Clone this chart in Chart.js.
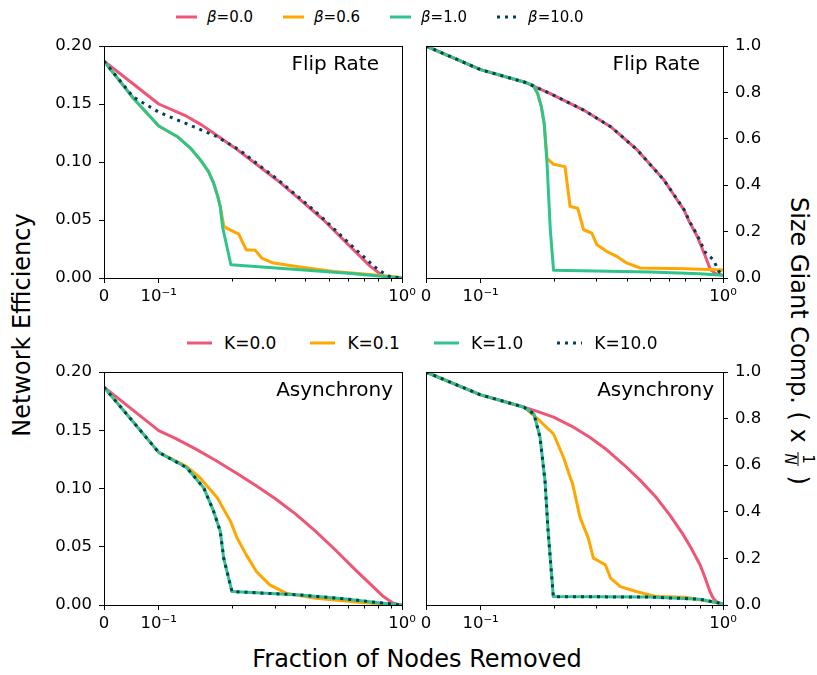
<!DOCTYPE html>
<html>
<head>
<meta charset="utf-8">
<script src="https://cdn.jsdelivr.net/npm/chart.js@4.4.1/dist/chart.umd.min.js"></script>
<style>
  body { margin: 0; background: #fff; font-family: 'DejaVu Sans', sans-serif; color: #000; }
  #fig { position: relative; width: 817px; height: 675px; overflow: hidden; }
  canvas { position: absolute; }
  .legend { position: absolute; display: flex; align-items: center; height: 20px; line-height: 20px; white-space: nowrap; }
  .legend .item { display: flex; align-items: center; }
  .legend svg { display: block; }
  .lab { position: absolute; white-space: nowrap; font-size: 24px; line-height: 1; }
  .frac { display: inline-flex; flex-direction: column; align-items: center; vertical-align: middle; font-size: 15px; line-height: 1; margin: 0 2px; }
  .frac span:first-child { border-bottom: 1.2px solid #000; padding: 0 2px 1px; }
  .frac span:last-child { font-style: italic; padding-top: 1px; }
</style>
</head>
<body>
<div id="fig">
  <canvas id="effFlip" width="370" height="270" style="left:50px;top:36px"></canvas>
  <canvas id="gcFlip" width="370" height="270" style="left:410px;top:36px"></canvas>
  <canvas id="effAsync" width="370" height="271" style="left:50px;top:362px"></canvas>
  <canvas id="gcAsync" width="370" height="271" style="left:410px;top:362px"></canvas>

  <div class="legend" id="legBeta" style="left:176px;top:7px;font-size:15px"></div>
  <div class="legend" id="legK" style="left:187px;top:333px;font-size:17px"></div>

  <div class="lab" style="left:22px;top:325px;transform:translate(-50%,-50%) rotate(-90deg)">Network Efficiency</div>
  <div class="lab" style="left:798px;top:341px;transform:translate(-50%,-50%) rotate(90deg)">Size Giant Comp. ( x <span class="frac"><span>1</span><span>N</span></span> )</div>
  <div class="lab" style="left:417px;top:647px;transform:translateX(-50%)">Fraction of Nodes Removed</div>
</div>

<script>
// x axis: symlog, linear from 0 to 0.1, log from 0.1 to 1
const xMajor = [0, 0.1, 1];
const xTickLabels = ['0', '10⁻¹', '10⁰'];
const xMinor = [0.2, 0.3, 0.4, 0.5, 0.6, 0.7, 0.8, 0.9];

const betaLabels = ['β=0.0', 'β=0.6', 'β=1.0', 'β=10.0'];
const kLabels = ['K=0.0', 'K=0.1', 'K=1.0', 'K=10.0'];
const seriesColors = ['#ef5675', '#ffa600', '#2fc48b', '#003f5c'];

// network efficiency, flip rate   [fraction removed, efficiency]
const effFlipB0 = [[0,0.187],[0.05,0.1685],[0.1,0.150],[0.13,0.1395],[0.15,0.132],[0.173,0.123],[0.203,0.113],[0.245,0.100],[0.306,0.0845],[0.382,0.0673],[0.476,0.050],[0.613,0.027],[0.741,0.010],[0.82,0.003],[0.87,0.0003],[1,0]];
const effFlipB06 = [[0,0.187],[0.0536,0.155],[0.1,0.131],[0.119,0.122],[0.135,0.112],[0.148,0.102],[0.16,0.092],[0.168,0.082],[0.175,0.07],[0.179,0.0616],[0.185,0.045],[0.19,0.043],[0.203,0.040],[0.213,0.038],[0.229,0.0243],[0.249,0.024],[0.265,0.0172],[0.296,0.0129],[0.382,0.0095],[0.523,0.0057],[0.718,0.0032],[1,0.0005]];
const effFlipB1 = [[0,0.187],[0.0536,0.155],[0.1,0.131],[0.119,0.122],[0.135,0.112],[0.148,0.102],[0.16,0.092],[0.168,0.082],[0.175,0.07],[0.179,0.0616],[0.183,0.044],[0.198,0.0114],[0.382,0.0071],[0.6,0.004],[0.8,0.0018],[1,0]];
const effFlipB10 = [[0,0.187],[0.0536,0.156],[0.1,0.143],[0.13,0.133],[0.173,0.122],[0.216,0.110],[0.245,0.101],[0.306,0.0855],[0.382,0.0685],[0.476,0.051],[0.613,0.029],[0.718,0.0157],[0.8,0.007],[0.895,0.001],[1,0]];

// giant component, flip rate
const gcFlipB0 = [[0,1],[0.1,0.898],[0.151,0.845],[0.194,0.795],[0.266,0.724],[0.344,0.652],[0.443,0.552],[0.570,0.423],[0.639,0.345],[0.690,0.294],[0.7297,0.238],[0.783,0.179],[0.846,0.093],[0.887,0.036],[0.93,0.02],[1,0.012]];
const gcFlipB06 = [[0,1],[0.1,0.898],[0.151,0.845],[0.165,0.83],[0.172,0.795],[0.178,0.74],[0.183,0.666],[0.188,0.516],[0.2,0.49],[0.223,0.48],[0.234,0.308],[0.2515,0.301],[0.266,0.208],[0.288,0.193],[0.302,0.143],[0.332,0.114],[0.365,0.093],[0.402,0.064],[0.455,0.043],[0.7,0.04],[1,0.035]];
const gcFlipB1 = [[0,1],[0.1,0.898],[0.151,0.845],[0.165,0.83],[0.172,0.795],[0.178,0.74],[0.183,0.666],[0.188,0.494],[0.194,0.208],[0.2,0.033],[0.5,0.026],[0.8,0.018],[1,0.012]];
const gcFlipB10 = [[0,1],[0.1,0.898],[0.151,0.845],[0.194,0.795],[0.266,0.724],[0.344,0.652],[0.443,0.552],[0.570,0.423],[0.639,0.347],[0.690,0.296],[0.7297,0.242],[0.783,0.185],[0.846,0.11],[0.912,0.079],[0.96,0.03],[1,0.01]];

// network efficiency, asynchrony
const effAsyncK0 = [[0,0.187],[0.1,0.1497],[0.1171,0.1430],[0.1415,0.1340],[0.171,0.1242],[0.2066,0.1138],[0.2497,0.1028],[0.3017,0.0912],[0.3646,0.0782],[0.4406,0.0634],[0.5324,0.0472],[0.6433,0.0302],[0.7413,0.0179],[0.8307,0.0080],[0.913,0.002],[0.967,0.0002],[1,0]];
const effAsyncK01 = [[0,0.187],[0.0536,0.157],[0.1,0.131],[0.13,0.119],[0.148,0.109],[0.174,0.092],[0.197,0.072],[0.210,0.0575],[0.229,0.043],[0.252,0.0288],[0.286,0.0173],[0.335,0.010],[0.442,0.0057],[0.7,0.002],[1,0]];
const effAsyncK1 = [[0,0.187],[0.0536,0.157],[0.1,0.131],[0.13,0.118],[0.153,0.1007],[0.168,0.0806],[0.179,0.0633],[0.185,0.040],[0.2,0.0115],[0.382,0.0086],[0.6,0.005],[0.8,0.002],[1,0]];
const effAsyncK10 = [[0,0.187],[0.0536,0.157],[0.1,0.131],[0.13,0.118],[0.153,0.1007],[0.168,0.0806],[0.179,0.0633],[0.185,0.040],[0.2,0.0115],[0.382,0.0086],[0.6,0.005],[0.8,0.002],[1,0]];

// giant component, asynchrony
const gcAsyncK0 = [[0,1],[0.1,0.902],[0.1228,0.877],[0.151,0.849],[0.1736,0.829],[0.2,0.806],[0.2382,0.767],[0.283,0.719],[0.3317,0.666],[0.388,0.604],[0.4547,0.536],[0.532,0.460],[0.6039,0.386],[0.685,0.302],[0.7416,0.241],[0.804,0.173],[0.8411,0.12],[0.884,0.057],[0.9097,0.030],[0.94,0.014],[0.9692,0.008],[1,0.005]];
const gcAsyncK01 = [[0,1],[0.1,0.902],[0.151,0.849],[0.172,0.799],[0.2,0.734],[0.22,0.633],[0.2345,0.547],[0.24,0.518],[0.2576,0.374],[0.278,0.288],[0.292,0.201],[0.327,0.173],[0.344,0.115],[0.377,0.079],[0.442,0.057],[0.532,0.036],[0.7,0.033],[1,0.005]];
const gcAsyncK1 = [[0,1],[0.1,0.902],[0.151,0.849],[0.166,0.820],[0.176,0.719],[0.1845,0.531],[0.19,0.316],[0.1996,0.036],[0.5,0.034],[0.8,0.025],[1,0.005]];
const gcAsyncK10 = [[0,1],[0.1,0.902],[0.151,0.849],[0.166,0.820],[0.176,0.719],[0.1845,0.531],[0.19,0.316],[0.1996,0.036],[0.5,0.034],[0.8,0.025],[1,0.005]];

const LIN = 0.225; // width of the linear part, in decades

function symU(v) { return v <= 0.1 ? v / 0.1 * LIN : LIN + Math.log10(v / 0.1); }
function symInv(u) { return u <= LIN ? u / LIN * 0.1 : 0.1 * Math.pow(10, u - LIN); }

class SymlogScale extends Chart.Scale {
  static id = 'symlog';
  static defaults = {};
  parse(raw) { return +raw; }
  determineDataLimits() { this.min = this.options.min ?? 0; this.max = this.options.max ?? 1; }
  buildTicks() { return xMajor.map(v => ({ value: v })); }
  getLabelForValue(v) { return String(v); }
  getPixelForValue(v) { return this.getPixelForDecimal(symU(v) / symU(this.max)); }
  getValueForPixel(p) { return symInv(this.getDecimalForPixel(p) * symU(this.max)); }
}
Chart.register(SymlogScale);

const panelDecor = {
  id: 'panelDecor',
  afterDraw(chart, args, opts) {
    const { ctx, chartArea: a } = chart;
    const xs = chart.scales.x;
    ctx.save();
    ctx.strokeStyle = '#000';
    ctx.lineWidth = 1;
    const l = Math.round(a.left) + 0.5, r = Math.round(a.right) + 0.5;
    const t = Math.round(a.top) + 0.5, b = Math.round(a.bottom) + 0.5;
    ctx.strokeRect(l, t, r - l, b - t);
    ctx.beginPath();
    xMinor.forEach(v => {
      const px = Math.round(xs.getPixelForValue(v)) + 0.5;
      ctx.moveTo(px, b);
      ctx.lineTo(px, b + 3);
    });
    ctx.stroke();
    ctx.font = '20px "DejaVu Sans"';
    ctx.fillStyle = '#000';
    ctx.textAlign = 'right';
    ctx.textBaseline = 'alphabetic';
    ctx.fillText(opts.text, a.right - opts.inset, a.top + 24);
    ctx.restore();
  }
};

Chart.defaults.font.family = "'DejaVu Sans'";
Chart.defaults.color = '#000';

function makePanel(id, series, labels, yMax, yStep, yDigits, right, tag, inset) {
  const datasets = series.map((pairs, i) => ({
    label: labels[i],
    data: pairs.map(([x, y]) => ({ x, y })),
    borderColor: seriesColors[i],
    backgroundColor: seriesColors[i],
    borderWidth: 3,
    borderDash: i === 3 ? [3, 5] : [],
    borderCapStyle: 'butt',
    borderJoinStyle: 'round',
    pointRadius: 0,
    tension: 0,
    clip: 0,
    order: 3 - i,
  }));
  new Chart(document.getElementById(id), {
    type: 'line',
    data: { datasets },
    plugins: [panelDecor],
    options: {
      responsive: false,
      animation: false,
      devicePixelRatio: 1,
      layout: { padding: right ? { left: 16, top: 10, right: 0, bottom: 0 } : { left: 0, top: 10, right: 18, bottom: 0 } },
      plugins: {
        legend: { display: false },
        tooltip: { enabled: false },
        panelDecor: { text: tag, inset },
      },
      scales: {
        x: {
          type: 'symlog',
          min: 0,
          max: 1,
          ticks: { callback: (v, i) => xTickLabels[i], font: { size: 16.5 }, padding: 4, maxRotation: 0, autoSkip: false },
          grid: { drawOnChartArea: false, tickLength: 5, tickColor: '#000', tickWidth: 1 },
          border: { display: false },
          afterFit: s => { s.height = 28; s.paddingLeft = 0; s.paddingRight = 0; },
        },
        y: {
          type: 'linear',
          position: right ? 'right' : 'left',
          min: 0,
          max: yMax,
          ticks: { stepSize: yStep, callback: v => v.toFixed(yDigits), font: { size: 16.5 }, padding: 7 },
          grid: { drawOnChartArea: false, tickLength: 5, tickColor: '#000', tickWidth: 1 },
          border: { display: false },
          afterFit: s => { s.width = right ? 57 : 54; s.paddingTop = 0; s.paddingBottom = 0; },
        },
      },
    },
  });
}

makePanel('effFlip', [effFlipB0, effFlipB06, effFlipB1, effFlipB10], betaLabels, 0.2, 0.05, 2, false, 'Flip Rate', 23);
makePanel('gcFlip', [gcFlipB0, gcFlipB06, gcFlipB1, gcFlipB10], betaLabels, 1, 0.2, 1, true, 'Flip Rate', 23);
makePanel('effAsync', [effAsyncK0, effAsyncK01, effAsyncK1, effAsyncK10], kLabels, 0.2, 0.05, 2, false, 'Asynchrony', 9);
makePanel('gcAsync', [gcAsyncK0, gcAsyncK01, gcAsyncK1, gcAsyncK10], kLabels, 1, 0.2, 1, true, 'Asynchrony', 9);

function buildLegend(id, labels, sampleW, textGap, itemGap) {
  const box = document.getElementById(id);
  labels.forEach((lab, i) => {
    const item = document.createElement('div');
    item.className = 'item';
    if (i > 0) item.style.marginLeft = itemGap + 'px';
    const dash = i === 3 ? ' stroke-dasharray="3 5"' : '';
    item.innerHTML =
      `<svg width="${sampleW}" height="6"><line x1="0" y1="3" x2="${sampleW}" y2="3" stroke="${seriesColors[i]}" stroke-width="3"${dash}/></svg>` +
      `<span style="margin-left:${textGap}px">${lab.replace('β', '<i>β</i>')}</span>`;
    box.appendChild(item);
  });
}
buildLegend('legBeta', betaLabels, 21, 10, 30);
buildLegend('legK', kLabels, 25, 12, 34);
</script>
</body>
</html>
